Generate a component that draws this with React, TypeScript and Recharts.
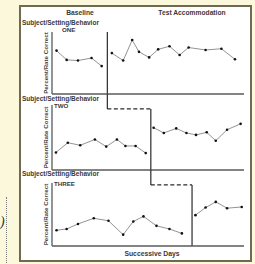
import { LineChart, Line, XAxis, YAxis, ReferenceLine } from 'recharts'

// days (hand-spaced), values in percent
const baseDaysOne = [0.4, 1.3, 2.3, 3.5, 4.4]
const baseValuesOne = [70, 55, 54, 58, 45]
const testDaysOne = [5.3, 6.3, 7.1, 7.7, 8.6, 9.4, 10.4, 11.3, 12.1, 13.6, 15.0, 16.2]
const testValuesOne = [66, 54, 87, 68, 59, 72, 77, 63, 75, 71, 73, 56]

const baseDaysTwo = [0.35, 1.4, 2.5, 3.8, 4.8, 5.75, 6.5, 7.4, 8.3]
const baseValuesTwo = [27, 42, 38, 47, 36, 47, 37, 37, 26]
const testDaysTwo = [9.0, 9.9, 11.0, 11.9, 12.75, 13.7, 14.5, 15.5, 16.7]
const testValuesTwo = [65, 57, 64, 57, 54, 58, 45, 62, 71]

const baseDaysThree = [0.4, 1.3, 2.3, 3.7, 5.0, 6.3, 7.2, 8.1, 9.25, 10.4, 11.5]
const baseValuesThree = [25, 27, 35, 44, 40, 18, 39, 47, 32, 27, 20]
const testDaysThree = [12.7, 13.6, 14.5, 15.5, 16.8]
const testValuesThree = [49, 61, 70, 60, 62]

const phaseDays = [4.9, 8.75, 12.4]
const dayDomain = [0, 17]

const toPoints = (days: number[], values: number[]) =>
  days.map((day, i) => ({ day, value: values[i] }))

const font = '"Liberation Sans", Arial, sans-serif'
const ink = '#3a3a3a'
const axisColor = '#5a5a5a'
const stepColor = '#2a2a2a'

function Text({ x, y, size = 6.5, children, center = false }: any) {
  return (
    <div
      style={{
        position: 'absolute',
        left: x,
        top: y,
        transform: center ? 'translateX(-50%)' : undefined,
        fontFamily: font,
        fontWeight: 'bold',
        fontSize: size,
        lineHeight: 1,
        color: ink,
        whiteSpace: 'nowrap'
      }}
    >
      {children}
    </div>
  )
}

function Panel({ top, height, marginTop, base, test, children }: any) {
  return (
    <div style={{ position: 'absolute', left: 0, top }}>
      <LineChart width={255} height={height} margin={{ top: marginTop, right: 11, bottom: 5, left: 40 }}>
        <XAxis
          type="number"
          dataKey="day"
          domain={dayDomain}
          tick={false}
          tickLine={false}
          height={1}
          stroke={axisColor}
          strokeWidth={1.3}
        />
        <YAxis
          type="number"
          dataKey="value"
          domain={[0, 100]}
          tick={false}
          tickLine={false}
          width={12}
          stroke={axisColor}
          strokeWidth={1.3}
          label={{
            value: 'Percent/Rate Correct',
            angle: -90,
            position: 'center',
            style: { fontFamily: font, fontSize: 6.2, fontWeight: 'bold', fill: '#444' }
          }}
        />
        {children}
        <Line
          data={base}
          dataKey="value"
          stroke="#777"
          strokeWidth={0.8}
          dot={{ r: 1.3, fill: '#111', stroke: 'none' }}
          isAnimationActive={false}
        />
        <Line
          data={test}
          dataKey="value"
          stroke="#777"
          strokeWidth={0.8}
          dot={{ r: 1.3, fill: '#111', stroke: 'none' }}
          isAnimationActive={false}
        />
      </LineChart>
    </div>
  )
}

export default function App() {
  const [p1, p2, p3] = phaseDays
  return (
    <div
      style={{
        position: 'fixed',
        left: 0,
        top: 0,
        width: 255,
        height: 264,
        background: '#fcf8dc',
        overflow: 'hidden'
      }}
    >
      <div
        style={{
          position: 'absolute',
          left: 6,
          top: 197,
          height: 66,
          borderLeft: '1.5px dotted #777'
        }}
      />
      <div
        style={{
          position: 'absolute',
          left: 0,
          top: 215,
          fontFamily: 'serif',
          fontStyle: 'italic',
          fontSize: 14,
          lineHeight: 1,
          color: '#333'
        }}
      >
        )
      </div>
      <div
        style={{
          position: 'absolute',
          left: 19,
          top: 5,
          width: 229,
          height: 253,
          background: '#fff',
          border: '2px solid #6f6b52'
        }}
      />

      <Text x={80} y={10} size={6.7} center>Baseline</Text>
      <Text x={192} y={10} size={6.7} center>Test Accommodation</Text>

      <Text x={22} y={20} size={6.5}>Subject/Setting/Behavior</Text>
      <Text x={22} y={96} size={6.5}>Subject/Setting/Behavior</Text>
      <Text x={22} y={171} size={6.5}>Subject/Setting/Behavior</Text>

      <Panel
        top={20}
        height={80}
        marginTop={12}
        base={toPoints(baseDaysOne, baseValuesOne)}
        test={toPoints(testDaysOne, testValuesOne)}
      >
        <ReferenceLine x={p1} stroke={stepColor} strokeWidth={1.2} />
      </Panel>

      <Panel
        top={92}
        height={84}
        marginTop={13}
        base={toPoints(baseDaysTwo, baseValuesTwo)}
        test={toPoints(testDaysTwo, testValuesTwo)}
      >
        <ReferenceLine segment={[{ x: p1, y: 117 }, { x: p1, y: 94 }]} ifOverflow="visible" stroke={stepColor} strokeWidth={1.2} />
        <ReferenceLine segment={[{ x: p1, y: 94 }, { x: p2, y: 94 }]} ifOverflow="visible" stroke={stepColor} strokeWidth={1.2} strokeDasharray="4 2.5" />
        <ReferenceLine segment={[{ x: p2, y: 94 }, { x: p2, y: 0 }]} ifOverflow="visible" stroke={stepColor} strokeWidth={1.2} />
      </Panel>

      <Panel
        top={168}
        height={84}
        marginTop={15}
        base={toPoints(baseDaysThree, baseValuesThree)}
        test={toPoints(testDaysThree, testValuesThree)}
      >
        <ReferenceLine segment={[{ x: p2, y: 121 }, { x: p2, y: 97 }]} ifOverflow="visible" stroke={stepColor} strokeWidth={1.2} />
        <ReferenceLine segment={[{ x: p2, y: 97 }, { x: p3, y: 97 }]} ifOverflow="visible" stroke={stepColor} strokeWidth={1.2} strokeDasharray="4 2.5" />
        <ReferenceLine segment={[{ x: p3, y: 97 }, { x: p3, y: 0 }]} ifOverflow="visible" stroke={stepColor} strokeWidth={1.2} />
      </Panel>

      <Text x={62} y={27} size={6.2}>ONE</Text>
      <Text x={54} y={103} size={6.2}>TWO</Text>
      <Text x={54} y={181} size={6.2}>THREE</Text>

      <Text x={152} y={251} size={6.8} center>Successive Days</Text>
    </div>
  )
}
